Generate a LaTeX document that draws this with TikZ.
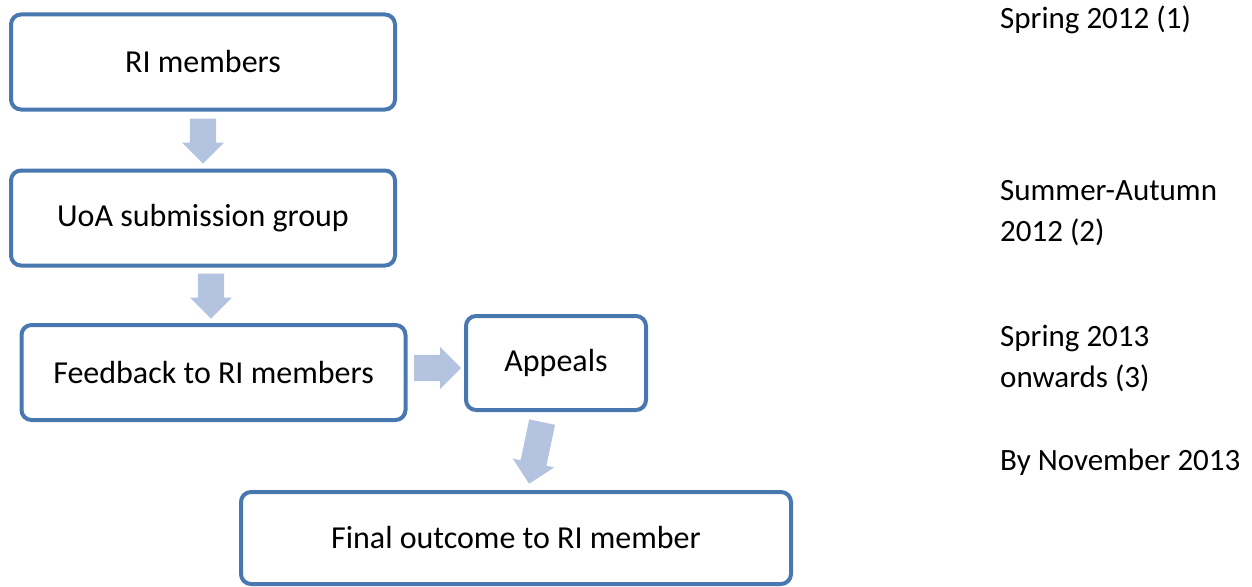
\documentclass[tikz,border=0pt]{standalone}
\usepackage{fontspec}
\setmainfont{Carlito}
\usetikzlibrary{shapes.arrows,calc}
\definecolor{boxblue}{RGB}{73,119,176}
\definecolor{arrowfill}{RGB}{179,195,224}
\begin{document}
\begin{tikzpicture}[x=1pt,y=-1pt,
  stage/.style={draw=boxblue, line width=4pt, rounded corners=10pt, fill=white,
    inner sep=0pt, font=\fontsize{32}{38}\selectfont},
  blockarrow/.style={single arrow, fill=arrowfill, draw=none, inner xsep=0pt,
    inner ysep=13pt, single arrow head extend=8pt, minimum height=45pt},
  side/.style={anchor=north west, align=left, inner sep=0pt,
    font=\fontsize{31}{41}\selectfont}]
\useasboundingbox (0,0) rectangle (1252,586);
\node[stage, minimum width=384pt, minimum height=95pt] (b1) at (203,62) {RI members};
\node[stage, minimum width=384pt, minimum height=95pt] (b2) at (203,218) {UoA submission group};
\node[stage, minimum width=384pt, minimum height=95pt] (b3) at (213.5,372.5) {Feedback to RI members};
\node[stage, minimum width=180pt, minimum height=94pt] (b4) at (556,363) {Appeals};
\node[stage, minimum width=550pt, minimum height=92pt] (b5) at (516,538) {Final outcome to RI member};
\node[blockarrow, rotate=-90, anchor=tip] (a1) at ($(b1.south)+(0,52.5)$) {};
\node[blockarrow, rotate=-90, anchor=tip] (a2) at ($(b2.south)+(8,51.5)$) {};
\node[blockarrow, minimum height=47pt, anchor=tip] (a3) at ($(b3.east)+(54,-4.5)$) {};
\node[blockarrow, rotate=258, minimum height=63pt, anchor=tip] (a4) at ($(b4.south)+(-27,72)$) {};
\node[side] (t1) at (1000,6) {Spring 2012 (1)};
\node[side] (t2) at (1000,180) {Summer-Autumn\\2012 (2)};
\node[side] (t3) at (1000,325) {Spring 2013\\onwards (3)};
\node[side] (t4) at (1000,449) {By November 2013};
\end{tikzpicture}
\end{document}
